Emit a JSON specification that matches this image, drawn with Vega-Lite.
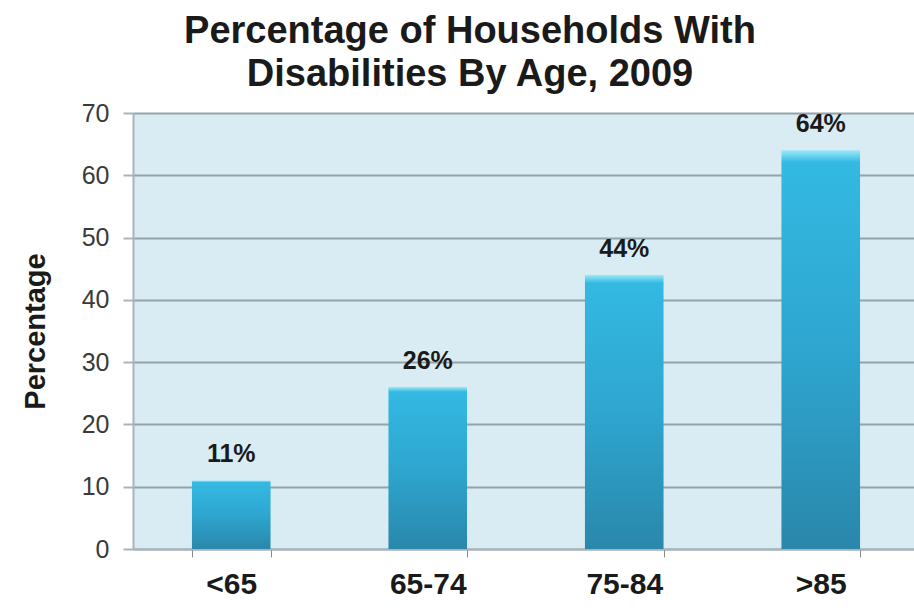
{
  "$schema": "https://vega.github.io/schema/vega-lite/v6.json",
  "autosize": {"type": "none"},
  "width": 786,
  "height": 436,
  "padding": {"left": 133, "top": 113, "right": 0, "bottom": 64},
  "background": "white",
  "title": {
    "text": ["Percentage of Households With", "Disabilities By Age, 2009"],
    "font": "Liberation Sans",
    "fontSize": 38,
    "fontWeight": "bold",
    "color": "#1a1a1a",
    "anchor": "middle",
    "frame": "group",
    "offset": 7,
    "lineHeight": 43,
    "dx": -56
  },
  "config": {
    "view": {"fill": "#d9ecf3", "stroke": null},
    "axis": {"labelFont": "Liberation Sans", "titleFont": "Liberation Sans"}
  },
  "data": {
    "values": [
      {"age": "<65", "pct": 11, "label": "11%"},
      {"age": "65-74", "pct": 26, "label": "26%"},
      {"age": "75-84", "pct": 44, "label": "44%"},
      {"age": ">85", "pct": 64, "label": "64%"}
    ]
  },
  "encoding": {
    "x": {
      "field": "age",
      "type": "nominal",
      "sort": null,
      "scale": {"paddingInner": 0.6, "paddingOuter": 0.3},
      "axis": {
        "title": null,
        "labelAngle": 0,
        "labelFontSize": 30,
        "labelFontWeight": "bold",
        "labelColor": "#1a1a1a",
        "labelPadding": 12,
        "domainColor": "#a8b4ba",
        "domainWidth": 2,
        "tickBand": "extent",
        "tickColor": "#8a8a8a",
        "tickSize": 8,
        "grid": false
      }
    },
    "y": {
      "field": "pct",
      "type": "quantitative",
      "scale": {"domain": [0, 70]},
      "axis": {
        "title": "Percentage",
        "titleFontSize": 29,
        "titleFontWeight": "bold",
        "titleColor": "#1a1a1a",
        "titlePadding": 31,
        "values": [0, 10, 20, 30, 40, 50, 60, 70],
        "labelFontSize": 25,
        "labelColor": "#3a3a3a",
        "labelPadding": 14,
        "domainColor": "#a8b4ba",
        "domainWidth": 2,
        "tickColor": "#a8b4ba",
        "tickWidth": 2,
        "tickSize": 10,
        "gridColor": "#93a3a9",
        "gridWidth": 2
      }
    }
  },
  "layer": [
    {
      "mark": {
        "type": "bar",
        "color": {
          "gradient": "linear",
          "x1": 0, "y1": 0, "x2": 0, "y2": 1,
          "stops": [
            {"offset": 0, "color": "#9be8f8"},
            {"offset": 0.03, "color": "#33b9e2"},
            {"offset": 0.5, "color": "#2ea6d0"},
            {"offset": 1, "color": "#2a87ab"}
          ]
        }
      }
    },
    {
      "mark": {
        "type": "text",
        "dy": -26,
        "font": "Liberation Sans",
        "fontSize": 25,
        "fontWeight": "bold",
        "color": "#1a1a1a"
      },
      "encoding": {"text": {"field": "label"}}
    }
  ]
}
